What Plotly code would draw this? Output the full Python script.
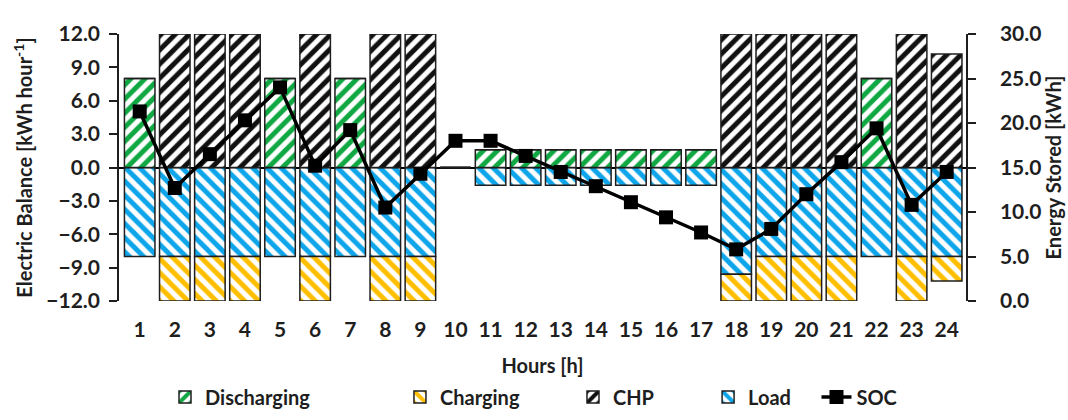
import plotly.graph_objects as go

hours = list(range(1, 25))

discharging = [8, 0, 0, 0, 8, 0, 8, 0, 0, 0, 1.6, 1.6, 1.6, 1.6, 1.6, 1.6, 1.6, 0, 0, 0, 0, 8, 0, 0]
charging = [0, -4, -4, -4, 0, -4, 0, -4, -4, 0, 0, 0, 0, 0, 0, 0, 0, -2.4, -4, -4, -4, 0, -4, -2.2]
chp = [0, 12, 12, 12, 0, 12, 0, 12, 12, 0, 0, 0, 0, 0, 0, 0, 0, 12, 12, 12, 12, 0, 12, 10.2]
load = [-8, -8, -8, -8, -8, -8, -8, -8, -8, 0, -1.6, -1.6, -1.6, -1.6, -1.6, -1.6, -1.6, -9.6, -8, -8, -8, -8, -8, -8]
soc = [21.3, 12.7, 16.5, 20.3, 24.0, 15.2, 19.2, 10.5, 14.3, 18.0, 18.0, 16.3, 14.5, 12.9,
       11.1, 9.4, 7.7, 5.8, 8.1, 12.0, 15.6, 19.4, 10.8, 14.5]

FONT = "Lato"
GREEN = "#10a843"
YELLOW = "#ffbf00"
GREY = "#111111"
BLUE = "#0ea5ea"
INK = "#1e1e1e"


def bar(name, values, color, shape, legend):
    return go.Bar(
        x=hours, y=values, name=name, legend=legend, showlegend=True,
        marker=dict(
            color="white",
            line=dict(color=INK, width=1.5),
            pattern=dict(shape=shape, fgcolor=color, bgcolor="white",
                         size=10, solidity=0.5, fillmode="replace"),
        ),
    )


fig = go.Figure()
# Load is added first so that it sits next to zero in the negative stack
fig.add_trace(bar("Load", load, BLUE, "\\", "legend4"))
fig.add_trace(bar("Charging", charging, YELLOW, "\\", "legend2"))
fig.add_trace(bar("Discharging", discharging, GREEN, "/", "legend"))
fig.add_trace(bar("CHP", chp, GREY, "/", "legend3"))
fig.add_trace(go.Scatter(
    x=hours, y=soc, name="SOC", yaxis="y2", legend="legend5", showlegend=True,
    mode="lines+markers",
    line=dict(color="black", width=3.5),
    marker=dict(symbol="square", size=14, color="black"),
))

tickfont = dict(family=FONT, size=21, color=INK, weight="bold")
titlefont = dict(family=FONT, size=20, color=INK, weight="bold")
legfont = dict(family=FONT, size=20, color=INK, weight="bold")


def legend_at(x):
    return dict(
        orientation="h", x=x, xanchor="left", xref="container",
        y=0.055, yanchor="middle", yref="container",
        font=legfont, bgcolor="rgba(0,0,0,0)",
    )


fig.update_layout(
    width=1068, height=420,
    margin=dict(l=119, r=102, t=34, b=119, autoexpand=False),
    paper_bgcolor="white", plot_bgcolor="white",
    barmode="relative", bargap=0.13, showlegend=True,
    font=dict(family=FONT, color=INK),
    xaxis=dict(
        range=[0.41, 24.55], tickmode="array", tickvals=hours,
        tickfont=tickfont, showgrid=False, showline=False, ticks="",
        ticklabelstandoff=14,
        title=dict(text="Hours [h]", font=titlefont, standoff=26),
    ),
    yaxis=dict(
        range=[-12, 12], dtick=3, tickformat=".1f",
        tickfont=tickfont, showgrid=False,
        showline=True, linecolor=INK, linewidth=1.5,
        ticks="outside", ticklen=8, tickcolor=INK, tickwidth=1.5,
        ticklabelstandoff=5,
        zeroline=True, zerolinecolor="black", zerolinewidth=1.5,
        title=dict(text="Electric Balance [kWh hour<sup>-1</sup>]", font=titlefont, standoff=8),
    ),
    yaxis2=dict(
        range=[0, 30], dtick=5, tickformat=".1f", overlaying="y", side="right",
        tickfont=tickfont, showgrid=False, zeroline=False,
        showline=True, linecolor=INK, linewidth=1.5,
        ticks="outside", ticklen=8, tickcolor=INK, tickwidth=1.5,
        ticklabelstandoff=20,
        title=dict(text="Energy Stored [kWh]", font=titlefont, standoff=7),
    ),
    legend=legend_at(0.1545),
    legend2=legend_at(0.3745),
    legend3=legend_at(0.5365),
    legend4=legend_at(0.663),
    legend5=legend_at(0.7645),
)

fig.write_html("out.html")
